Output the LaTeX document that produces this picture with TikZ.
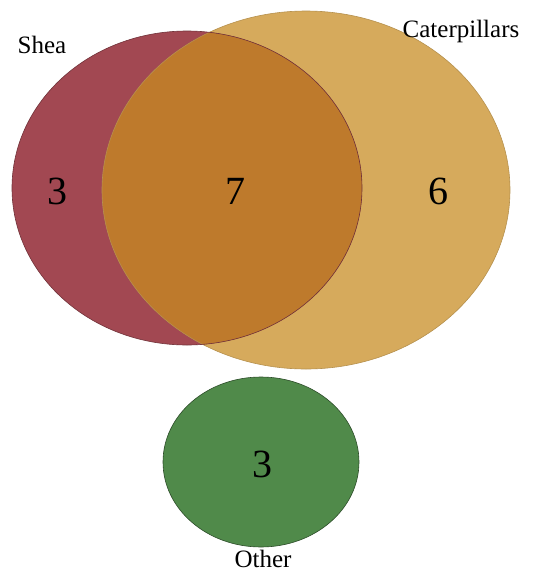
\documentclass[tikz,border=0pt]{standalone}
\usepackage{fontspec}
\setmainfont{Liberation Serif}

\definecolor{sheared}{RGB}{162,72,82}
\definecolor{caterpillar}{RGB}{214,170,92}
\definecolor{overlap}{RGB}{190,122,44}
\definecolor{othergreen}{RGB}{80,138,74}

\tikzset{
  setlabel/.style={inner sep=0pt,anchor=base,font=\fontsize{25}{30}\selectfont},
  count/.style={inner sep=0pt,anchor=base,font=\fontsize{40}{44}\selectfont}
}

\begin{document}
\begin{tikzpicture}
[x=1pt,y=-1pt]
\useasboundingbox (0,0) rectangle (535,574);

\fill[caterpillar] (306,190) ellipse [x radius=204, y radius=179];
\fill[sheared] (187,188) ellipse [x radius=175, y radius=157];
\begin{scope}
\clip (187,188) ellipse [x radius=175, y radius=157];
\fill[overlap] (306,190) ellipse [x radius=204, y radius=179];
\end{scope}
\draw[caterpillar!85!black,line width=0.6pt] (306,190) ellipse [x radius=204, y radius=179];
\draw[sheared!70!black,line width=0.6pt] (187,188) ellipse [x radius=175, y radius=157];

\draw[fill=othergreen,draw=othergreen!55!black,line width=0.6pt] (261,462) ellipse [x radius=98, y radius=85];

\node[setlabel] (shea) at (42,53) {Shea};
\node[setlabel] (cat) at (461,37) {Caterpillars};
\node[setlabel] (other) at (263,567) {Other};

\node[count] (sheaonly) at (57,204) {3};
\node[count] (both) at (235,204) {7};
\node[count] (catonly) at (438,204) {6};
\node[count] (otheronly) at (262,477) {3};
\end{tikzpicture}
\end{document}
